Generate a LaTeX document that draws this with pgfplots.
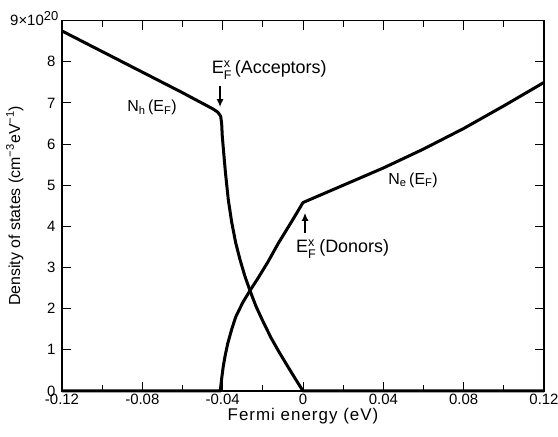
\documentclass[border=0pt]{standalone}
\usepackage{pgfplots}
\pgfplotsset{compat=1.18}
\usepackage{fontspec}
\setmainfont{Liberation Sans}
\usepackage{amsmath}
\usetikzlibrary{arrows.meta,calc}
\begin{document}
\begin{tikzpicture}
\begin{axis}[
  scale only axis, width=482bp, height=370.3bp,
  xmin=-0.12, xmax=0.12, ymin=0, ymax=9,
  xtick={-0.12,-0.08,-0.04,0,0.04,0.08,0.12},
  xticklabels={-0.12,-0.08,-0.04,0,0.04,0.08,0.12},
  minor xtick={-0.10,-0.06,-0.02,0.02,0.06,0.10},
  ytick={0,1,2,3,4,5,6,7,8,9},
  yticklabels={0,1,2,3,4,5,6,7,8,{}},
  tick label style={font=\fontsize{15}{17}\selectfont},
  yticklabel style={xshift=-3bp},
  major tick length=9bp, minor tick length=6bp,
  tick style={line width=1bp, black},
  axis line style={line width=1.3bp},
  xlabel={Fermi energy (eV)},
  ylabel={Density of states (cm\textsuperscript{−3}eV\textsuperscript{−1})},
  xlabel style={font=\fontsize{17}{20}\selectfont\addfontfeatures{LetterSpace=6},
    at={(axis description cs:0.5,-0.037)}, anchor=north},
  ylabel style={font=\fontsize{16}{19}\selectfont,
    at={(axis description cs:-0.0726,0.5)}, anchor=south},
  clip=false,
]
% N_h(E_F)
\addplot[black, line width=3bp, line join=round] coordinates {
(-0.12,8.75) (-0.10,8.25) (-0.08,7.75) (-0.06,7.25) (-0.05,6.99)
(-0.045,6.86) (-0.0425,6.78) (-0.041,6.68) (-0.0405,6.5) (-0.0402,6.2)
(-0.0395,5.8) (-0.0386,5.3) (-0.0372,4.65) (-0.0355,4.1) (-0.0335,3.6)
(-0.0314,3.2) (-0.029,2.8) (-0.0264,2.44) (-0.0235,2.07) (-0.0206,1.76)
(-0.016,1.3) (-0.0123,0.98) (-0.008,0.63) (-0.004,0.31) (0,0) (0.12,0)
};
% N_e(E_F)
\addplot[black, line width=3bp, line join=round] coordinates {
(-0.12,0) (-0.0412,0) (-0.0405,0.3) (-0.0397,0.6) (-0.0388,0.85)
(-0.0375,1.15) (-0.0355,1.5) (-0.0335,1.8) (-0.030,2.15) (-0.0264,2.44)
(-0.0223,2.75) (-0.0173,3.15) (-0.0123,3.59) (-0.006,4.09) (0,4.58)
(0.02,5.0) (0.04,5.42) (0.06,5.88) (0.08,6.38) (0.10,6.93) (0.12,7.5)
};
\node[anchor=base west, font=\fontsize{15}{17}\selectfont, inner sep=0pt]
  at ($(axis cs:-0.12,9)+(-52bp,-5bp)$) {9×10\raisebox{5bp}{\fontsize{13}{13}\selectfont 20}};
\node[font=\fontsize{16}{18}\selectfont] at (axis cs:-0.0752,6.89) {N\textsubscript{h}\,(E\textsubscript{F})};
\node[font=\fontsize{16}{18}\selectfont] at (axis cs:0.0548,5.13) {N\textsubscript{e}\,(E\textsubscript{F})};
\node[anchor=west, font=\fontsize{18}{20}\selectfont, inner sep=0pt] at (axis cs:-0.0455,7.8)
  {E$^{\text{x}}_{\text{F}}$\,(Acceptors)};
\node[anchor=west, font=\fontsize{18}{20}\selectfont, inner sep=0pt] at (axis cs:-0.0035,3.45)
  {E$^{\text{x}}_{\text{F}}$\,(Donors)};
\draw[line width=1.5bp, -{Latex[length=8bp,width=7bp]}] (axis cs:-0.0413,7.42) -- (axis cs:-0.0413,6.9);
\draw[line width=1.5bp, -{Latex[length=8bp,width=7bp]}] (axis cs:0.001,3.84) -- (axis cs:0.001,4.33);
\end{axis}
\pgfresetboundingbox
\path[use as bounding box] ($(current axis.south west)+(-62bp,-46bp)$) rectangle ($(current axis.north east)+(14bp,20.7bp)$);
\end{tikzpicture}
\end{document}
